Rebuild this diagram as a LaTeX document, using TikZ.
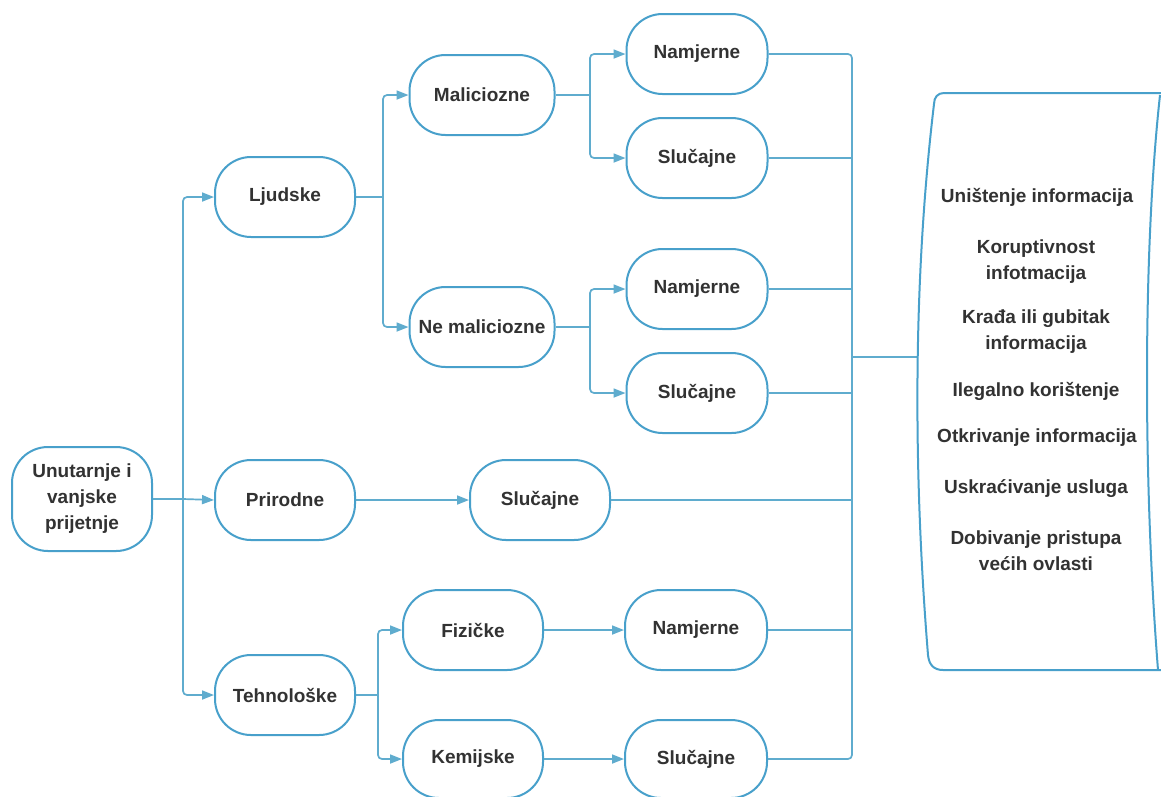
\documentclass[tikz,border=0pt]{standalone}
\usepackage{fontspec}
\setmainfont{Liberation Sans}
\usetikzlibrary{arrows.meta}
\definecolor{nodeblue}{RGB}{72,160,203}
\definecolor{lineblue}{RGB}{95,172,206}
\definecolor{txt}{RGB}{50,50,50}
\begin{document}
\begin{tikzpicture}[x=1pt,y=-1pt,
  box/.style={draw=nodeblue, line width=2pt, rounded corners=36pt, minimum width=140pt,
    minimum height=80pt, fill=white, text=txt, align=center, inner sep=0pt,
    font=\bfseries\fontsize{19}{26}\selectfont},
  conn/.style={draw=lineblue, line width=1.7pt, rounded corners=4pt},
  arr/.style={conn, -{Triangle[length=12pt,width=9pt]}},
  rtext/.style={text=txt, align=center, inner sep=0pt, font=\bfseries\fontsize{19}{26}\selectfont}]
\useasboundingbox (0,0) rectangle (1161,796);
\fill[white] (0,0) rectangle (1161,796);

% nodes
\node[box, minimum height=104pt] (u) at (82,499) {Unutarnje i\\vanjske\\prijetnje};
\node[box] (lj) at (285,197) {Ljudske};
\node[box] (pr) at (285,500) {Prirodne};
\node[box] (te) at (285,695) {Tehnološke};
\node[box, minimum width=145pt] (ma) at (482,95) {Maliciozne};
\node[box, minimum width=145pt] (nm) at (482,327) {Ne maliciozne};
\node[box, minimum width=141pt] (n1) at (697,54) {Namjerne};
\node[box, minimum width=141pt] (s1) at (697,158) {Slučajne};
\node[box, minimum width=141pt] (n2) at (697,289) {Namjerne};
\node[box, minimum width=141pt] (s2) at (697,393) {Slučajne};
\node[box] (sp) at (540,500) {Slučajne};
\node[box] (fi) at (473,630) {Fizičke};
\node[box, minimum height=78pt] (ke) at (473,759) {Kemijske};
\node[box, minimum width=142pt] (n3) at (696,630) {Namjerne};
\node[box, minimum width=142pt, minimum height=78pt] (s3) at (696,759) {Slučajne};

% junctions
\coordinate (J1) at (183,499);
\coordinate (J2) at (383,197);
\coordinate (J3) at (590,95);
\coordinate (J4) at (590,327);
\coordinate (J5) at (378,695);
\coordinate (J) at (852,357);
\coordinate (boxL) at (917,357);

% left connectors
\draw[conn] (u.east) -- (J1);
\draw[arr] (J1) |- (lj.west);
\draw[arr] (J1) |- (te.west);
\draw[arr] (J1) -- (pr.west);
\draw[conn] (lj.east) -- (J2);
\draw[arr] (J2) |- (ma.west);
\draw[arr] (J2) |- (nm.west);
\draw[conn] (ma.east) -- (J3);
\draw[arr] (J3) |- (n1.west);
\draw[arr] (J3) |- (s1.west);
\draw[conn] (nm.east) -- (J4);
\draw[arr] (J4) |- (n2.west);
\draw[arr] (J4) |- (s2.west);
\draw[arr] (pr.east) -- (sp.west);
\draw[conn] (te.east) -- (J5);
\draw[arr] (J5) |- (fi.west);
\draw[arr] (J5) |- (ke.west);
\draw[arr] (fi.east) -- (n3.west);
\draw[arr] (ke.east) -- (s3.west);

% right connectors
\draw[conn] (n1.east) -| (J |- s3.east) -- (s3.east);
\draw[conn] (s1.east) -- (s1.east -| J);
\draw[conn] (n2.east) -- (n2.east -| J);
\draw[conn] (s2.east) -- (s2.east -| J);
\draw[conn] (sp.east) -- (sp.east -| J);
\draw[conn] (n3.east) -- (n3.east -| J);
\draw[conn] (J) -- (boxL);

% right box
\draw[draw=nodeblue, line width=2pt]
  (1163,93) -- (944,93) .. controls (938,93) and (934,97) .. (934,104)
  .. controls (913,280) and (913,470) .. (928,655)
  .. controls (929,665) and (934,670) .. (943,670) -- (1163,670);
\draw[draw=nodeblue, line width=2pt] (1160,95) .. controls (1143,250) and (1143,480) .. (1158,670);

\node[rtext] (t1) at (1037,197) {Uništenje informacija};
\node[rtext] (t2) at (1036,262) {Koruptivnost\\infotmacija};
\node[rtext] (t3) at (1036,332) {Krađa ili gubitak\\informacija};
\node[rtext] (t4) at (1036,391) {Ilegalno korištenje};
\node[rtext] (t5) at (1037,438) {Otkrivanje informacija};
\node[rtext] (t6) at (1036,489) {Uskraćivanje usluga};
\node[rtext] (t7) at (1036,551) {Dobivanje pristupa\\većih ovlasti};
\end{tikzpicture}
\end{document}
